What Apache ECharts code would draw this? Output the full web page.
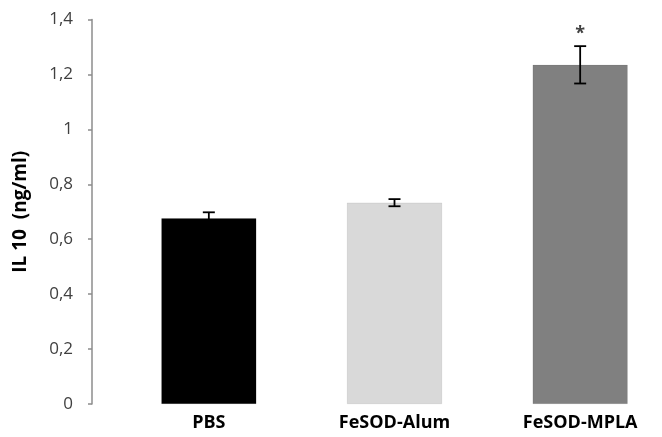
<!DOCTYPE html>
<html>
<head>
<meta charset="utf-8">
<script src="https://cdn.jsdelivr.net/npm/echarts@6/dist/echarts.min.js"></script>
<style>
  html, body { margin: 0; padding: 0; background: #fff; }
  #chart { width: 662px; height: 437px; }
</style>
</head>
<body>
<div id="chart"></div>
<script>
// IL-10 levels per group (ng/ml), with standard error and significance marks
const categories = ['PBS', 'FeSOD-Alum', 'FeSOD-MPLA'];
const meanValues = [0.676, 0.733, 1.235];
const errorValues = [0.022, 0.013, 0.068];
const significance = ['', '', '*'];
const barColors = ['#000000', '#d9d9d9', '#808080'];
const yTicks = { min: 0, max: 1.4, interval: 0.2 };

const chart = echarts.init(document.getElementById('chart'), null, { renderer: 'canvas' });

const errorData = meanValues.map((v, i) => [i, v - errorValues[i], v + errorValues[i], v]);

chart.setOption({
  animation: false,
  backgroundColor: '#ffffff',
  grid: {
    left: 116, top: 19.5, bottom: 33, width: 557,
    containLabel: false,
    outerBoundsMode: 'none'
  },
  xAxis: {
    type: 'category',
    data: categories,
    axisLine: { show: false },
    axisTick: { show: false },
    axisLabel: {
      color: '#000000',
      fontFamily: 'Open Sans',
      fontWeight: 'bold',
      fontSize: 18,
      margin: 10
    }
  },
  yAxis: {
    type: 'value',
    min: yTicks.min,
    max: yTicks.max,
    interval: yTicks.interval,
    offset: 24,
    name: 'IL 10  (ng/ml)',
    nameLocation: 'middle',
    nameGap: 62,
    nameRotate: 90,
    nameTextStyle: {
      color: '#000000',
      fontFamily: 'Open Sans',
      fontWeight: 'bold',
      fontSize: 19
    },
    axisLine: { show: true, lineStyle: { color: '#8c8c8c', width: 1.5 } },
    axisTick: { show: true, length: 4, lineStyle: { color: '#8c8c8c', width: 1.5 } },
    splitLine: { show: false },
    axisLabel: {
      color: '#404040',
      fontFamily: 'Open Sans',
      fontSize: 17,
      margin: 19,
      formatter: v => String(Math.round(v * 10) / 10).replace('.', ',')
    }
  },
  series: [
    {
      type: 'bar',
      barWidth: 95,
      data: meanValues.map((v, i) => ({
        value: v,
        itemStyle: { color: barColors[i], borderColor: 'rgba(0,0,0,0.15)', borderWidth: 0.5 }
      })),
      z: 2
    },
    {
      type: 'custom',
      data: errorData,
      z: 3,
      renderItem: (params, api) => {
        const i = api.value(0);
        const lo = api.coord([i, api.value(1)]);
        const hi = api.coord([i, api.value(2)]);
        const half = 6;
        const style = { stroke: '#000000', lineWidth: 1.8 };
        const children = [
          { type: 'line', shape: { x1: lo[0], y1: lo[1], x2: hi[0], y2: hi[1] }, style },
          { type: 'line', shape: { x1: lo[0] - half, y1: lo[1], x2: lo[0] + half, y2: lo[1] }, style },
          { type: 'line', shape: { x1: hi[0] - half, y1: hi[1], x2: hi[0] + half, y2: hi[1] }, style }
        ];
        if (significance[params.dataIndex]) {
          children.push({
            type: 'text',
            style: {
              text: significance[params.dataIndex],
              x: hi[0],
              y: hi[1] - 3,
              textAlign: 'center',
              textVerticalAlign: 'bottom',
              fill: '#404040',
              font: 'bold 18px "Open Sans"'
            }
          });
        }
        return { type: 'group', children };
      }
    }
  ]
});
</script>
</body>
</html>
